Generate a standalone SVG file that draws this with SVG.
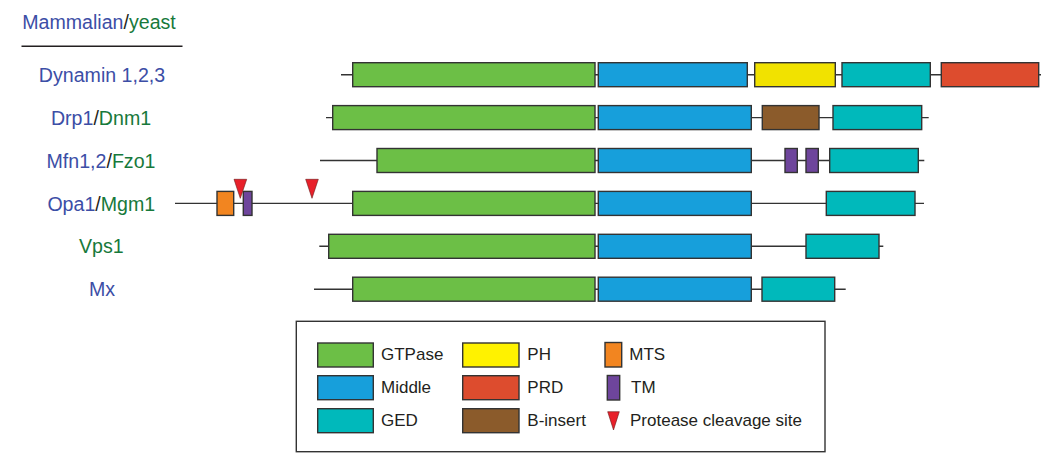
<svg xmlns="http://www.w3.org/2000/svg" width="1050" height="462" viewBox="0 0 1050 462">
<style>
text{font-family:"Liberation Sans",Arial,sans-serif}
.lab{font-size:19.6px;text-anchor:middle}
.m{fill:#3c4ea6}.y{fill:#17793b}.k{fill:#231f20}
.b{stroke:#333;stroke-width:1.4}
.ln{stroke:#333;stroke-width:1.4;fill:none}
.gt{fill:#6cbf46}.mi{fill:#179fdb}.ge{fill:#00b9bb}.ph{fill:#f1e200}.pr{fill:#dd4c2e}.bi{fill:#8b5b2b}.mt{fill:#f28520}.tm{fill:#6e459c}
.tri{fill:#e8202a;stroke:#6a1515;stroke-width:0.6}
.lg{font-size:17px;fill:#231f20}
</style>
<rect width="1050" height="462" fill="#fff"/>
<g id="header">
<text class="lab" x="99" y="29"><tspan class="m">Mammalian</tspan><tspan class="k">/</tspan><tspan class="y">yeast</tspan></text>
<line x1="21.5" y1="46.3" x2="182.5" y2="46.3" stroke="#231f20" stroke-width="1.4"/>
</g>
<g id="connectors">
<line class="ln" x1="341" y1="74.7" x2="1041" y2="74.7"/>
<line class="ln" x1="326" y1="117.6" x2="928.7" y2="117.6"/>
<line class="ln" x1="320" y1="160.5" x2="924.3" y2="160.5"/>
<line class="ln" x1="175" y1="203.4" x2="924" y2="203.4"/>
<line class="ln" x1="319.3" y1="246.3" x2="883.3" y2="246.3"/>
<line class="ln" x1="314" y1="289.2" x2="845.7" y2="289.2"/>
</g>
<g id="dynamin">
<text class="lab m" x="102" y="82">Dynamin 1,2,3</text>
<rect class="b gt" x="352.7" y="62.7" width="242.3" height="24"/>
<rect class="b mi" x="598.3" y="62.7" width="149" height="24"/>
<rect class="b ph" x="754.7" y="62.7" width="80.6" height="24"/>
<rect class="b ge" x="842" y="62.7" width="88.3" height="24"/>
<rect class="b pr" x="941.3" y="62.7" width="97.4" height="24"/>
</g>
<g id="drp1">
<text class="lab" x="101" y="125"><tspan class="m">Drp1</tspan><tspan class="k">/</tspan><tspan class="y">Dnm1</tspan></text>
<rect class="b gt" x="332.7" y="105.6" width="262.3" height="24"/>
<rect class="b mi" x="598.3" y="105.6" width="153" height="24"/>
<rect class="b bi" x="762.3" y="105.6" width="56.7" height="24"/>
<rect class="b ge" x="833" y="105.6" width="88.7" height="24"/>
</g>
<g id="mfn">
<text class="lab" x="101" y="168"><tspan class="m">Mfn1,2</tspan><tspan class="k">/</tspan><tspan class="y">Fzo1</tspan></text>
<rect class="b gt" x="377" y="148.5" width="218" height="24"/>
<rect class="b mi" x="598.3" y="148.5" width="153" height="24"/>
<rect class="b tm" x="785" y="148.5" width="12.3" height="24"/>
<rect class="b tm" x="806" y="148.5" width="12.3" height="24"/>
<rect class="b ge" x="829.7" y="148.5" width="88.6" height="24"/>
</g>
<g id="opa1">
<text class="lab" x="101.3" y="210.7"><tspan class="m">Opa1</tspan><tspan class="k">/</tspan><tspan class="y">Mgm1</tspan></text>
<rect class="b mt" x="217" y="191.4" width="16.7" height="24"/>
<rect class="b tm" x="243.3" y="191.4" width="8.7" height="24"/>
<rect class="b gt" x="352.7" y="191.4" width="242.3" height="24"/>
<rect class="b mi" x="598.3" y="191.4" width="153" height="24"/>
<rect class="b ge" x="826.3" y="191.4" width="88.7" height="24"/>
<polygon class="tri" points="234,179.3 246.7,179.3 240.3,198.3"/>
<polygon class="tri" points="305.7,179.3 318.3,179.3 312,198.3"/>
</g>
<g id="vps1">
<text class="lab y" x="101.3" y="252.7">Vps1</text>
<rect class="b gt" x="328.7" y="234.3" width="266.3" height="24"/>
<rect class="b mi" x="598.3" y="234.3" width="153" height="24"/>
<rect class="b ge" x="806" y="234.3" width="73" height="24"/>
</g>
<g id="mx">
<text class="lab m" x="102" y="296">Mx</text>
<rect class="b gt" x="352.7" y="277.2" width="242.3" height="24"/>
<rect class="b mi" x="598.3" y="277.2" width="153" height="24"/>
<rect class="b ge" x="762" y="277.2" width="72.7" height="24"/>
</g>
<g id="legend">
<rect x="296.3" y="321.3" width="528.7" height="130.4" fill="#fff" stroke="#333" stroke-width="1.4"/>
<rect class="b gt" x="317.7" y="343" width="55.6" height="24"/>
<rect class="b mi" x="317.7" y="375.7" width="55.6" height="24"/>
<rect class="b ge" x="317.7" y="408.7" width="55.6" height="24"/>
<text class="lg" x="381" y="360">GTPase</text>
<text class="lg" x="381" y="393.3">Middle</text>
<text class="lg" x="381" y="426">GED</text>
<rect class="b" fill="#fff200" x="462.7" y="343" width="56.3" height="24"/>
<rect class="b pr" x="462.7" y="375.7" width="56.3" height="24"/>
<rect class="b bi" x="462.7" y="408.7" width="56.3" height="24"/>
<text class="lg" x="527.3" y="360">PH</text>
<text class="lg" x="527.3" y="393.3">PRD</text>
<text class="lg" x="527.3" y="426">B-insert</text>
<rect class="b mt" x="605" y="342.5" width="16.7" height="24.5"/>
<rect class="b tm" x="607.3" y="375.5" width="12.4" height="24.5"/>
<polygon class="tri" points="607.7,411.7 619.3,411.7 613.5,430"/>
<text class="lg" x="629.3" y="360">MTS</text>
<text class="lg" x="631" y="393.3">TM</text>
<text class="lg" x="630" y="426">Protease cleavage site</text>
</g>
</svg>
